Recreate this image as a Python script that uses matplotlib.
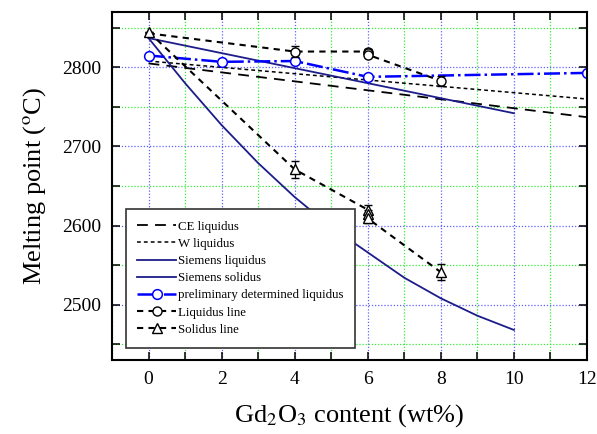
import matplotlib
matplotlib.use('Agg')
import matplotlib.pyplot as plt
from matplotlib.ticker import MultipleLocator

plt.rcParams['font.family'] = 'Liberation Serif'
plt.rcParams['mathtext.fontset'] = 'stix'

# data
ce_x = [0, 12]
ce_y = [2805, 2737]
w_x = [0, 12]
w_y = [2808, 2760]
sl_x = [0, 10]
sl_y = [2837, 2742]
ss_x = [0, 1, 2, 3, 4, 5, 6, 7, 8, 9, 10]
ss_y = [2837, 2780, 2727, 2679, 2636, 2598, 2566, 2534, 2508, 2486, 2468]
pre_x = [0, 2, 4, 6, 12]
pre_y = [2815, 2807, 2808, 2788, 2793]
liq_x = [0, 4, 6, 6, 6, 8]
liq_y = [2843, 2820, 2820, 2818, 2816, 2783]
liq_err = [0, 7, 3, 3, 3, 6]
sol_x = [0, 4, 6, 6, 6, 8]
sol_y = [2845, 2671, 2620, 2614, 2609, 2541]
sol_err = [0, 11, 6, 6, 6, 10]

fig = plt.figure(figsize=(5.97, 4.34), dpi=100)
ax = fig.add_axes([112/597, 74/434, 475/597, 348/434])

navy = '#1c1c8a'
dash = (0, (3, 2.5))
ax.plot(ce_x, ce_y, color='black', ls=(0, (6, 4)), lw=1.3, label='CE liquidus')
ax.plot(w_x, w_y, color='black', ls=(0, (2.5, 2)), lw=1.1, label='W liquidus')
ax.plot(sl_x, sl_y, color=navy, lw=1.3, label='Siemens liquidus')
ax.plot(ss_x, ss_y, color=navy, lw=1.3, label='Siemens solidus')
ax.plot(pre_x, pre_y, color='#0000ff', ls='-.', lw=1.8, marker='o', ms=7,
        mfc='white', mec='#0000ff', mew=1.1, label='preliminary determined liquidus')

ax.errorbar(liq_x, liq_y, yerr=liq_err, fmt='none', ecolor='black',
            elinewidth=0.9, capsize=3)
ax.plot(liq_x, liq_y, color='black', ls=dash, lw=1.5, marker='o', ms=6.5,
        mfc='white', mec='black', mew=1.0, markevery=[1, 2, 3, 4, 5],
        label='Liquidus line')
ax.errorbar(sol_x, sol_y, yerr=sol_err, fmt='none', ecolor='black',
            elinewidth=0.9, capsize=3)
ax.plot(sol_x, sol_y, color='black', ls=dash, lw=1.5, marker='^', ms=7,
        mfc='white', mec='black', mew=1.0, label='Solidus line')

ax.set_xlim(-1, 12)
ax.set_ylim(2430, 2870)
ax.xaxis.set_major_locator(MultipleLocator(2))
ax.xaxis.set_minor_locator(MultipleLocator(1))
ax.yaxis.set_minor_locator(MultipleLocator(50))
ax.set_yticks([2500, 2600, 2700, 2800])

ax.grid(which='major', color='#6060ff', ls=(0, (1, 1.5)), lw=0.9)
ax.grid(which='minor', color='#33ee33', ls=(0, (1, 1.5)), lw=0.9)
ax.set_axisbelow(True)

ax.tick_params(which='both', direction='in', top=True, right=True, length=6,
               width=1.1, labelsize=14, pad=8)
for s in ax.spines.values():
    s.set_linewidth(1.5)

ax.set_xlabel('Gd$_2$O$_3$ content (wt%)', fontsize=19, labelpad=10)
ax.set_ylabel('Melting point ($^{\\rm o}$C)', fontsize=19, labelpad=10)

leg = ax.legend(loc='upper left', bbox_to_anchor=(0.029, 0.434), borderaxespad=0,
                fontsize=9.3, handlelength=3.0, handletextpad=0.15, labelspacing=0.4,
                fancybox=False, framealpha=1, edgecolor='#333333', borderpad=0.9)
leg.get_frame().set_linewidth(1.2)

fig.savefig('out.png', dpi=100)
